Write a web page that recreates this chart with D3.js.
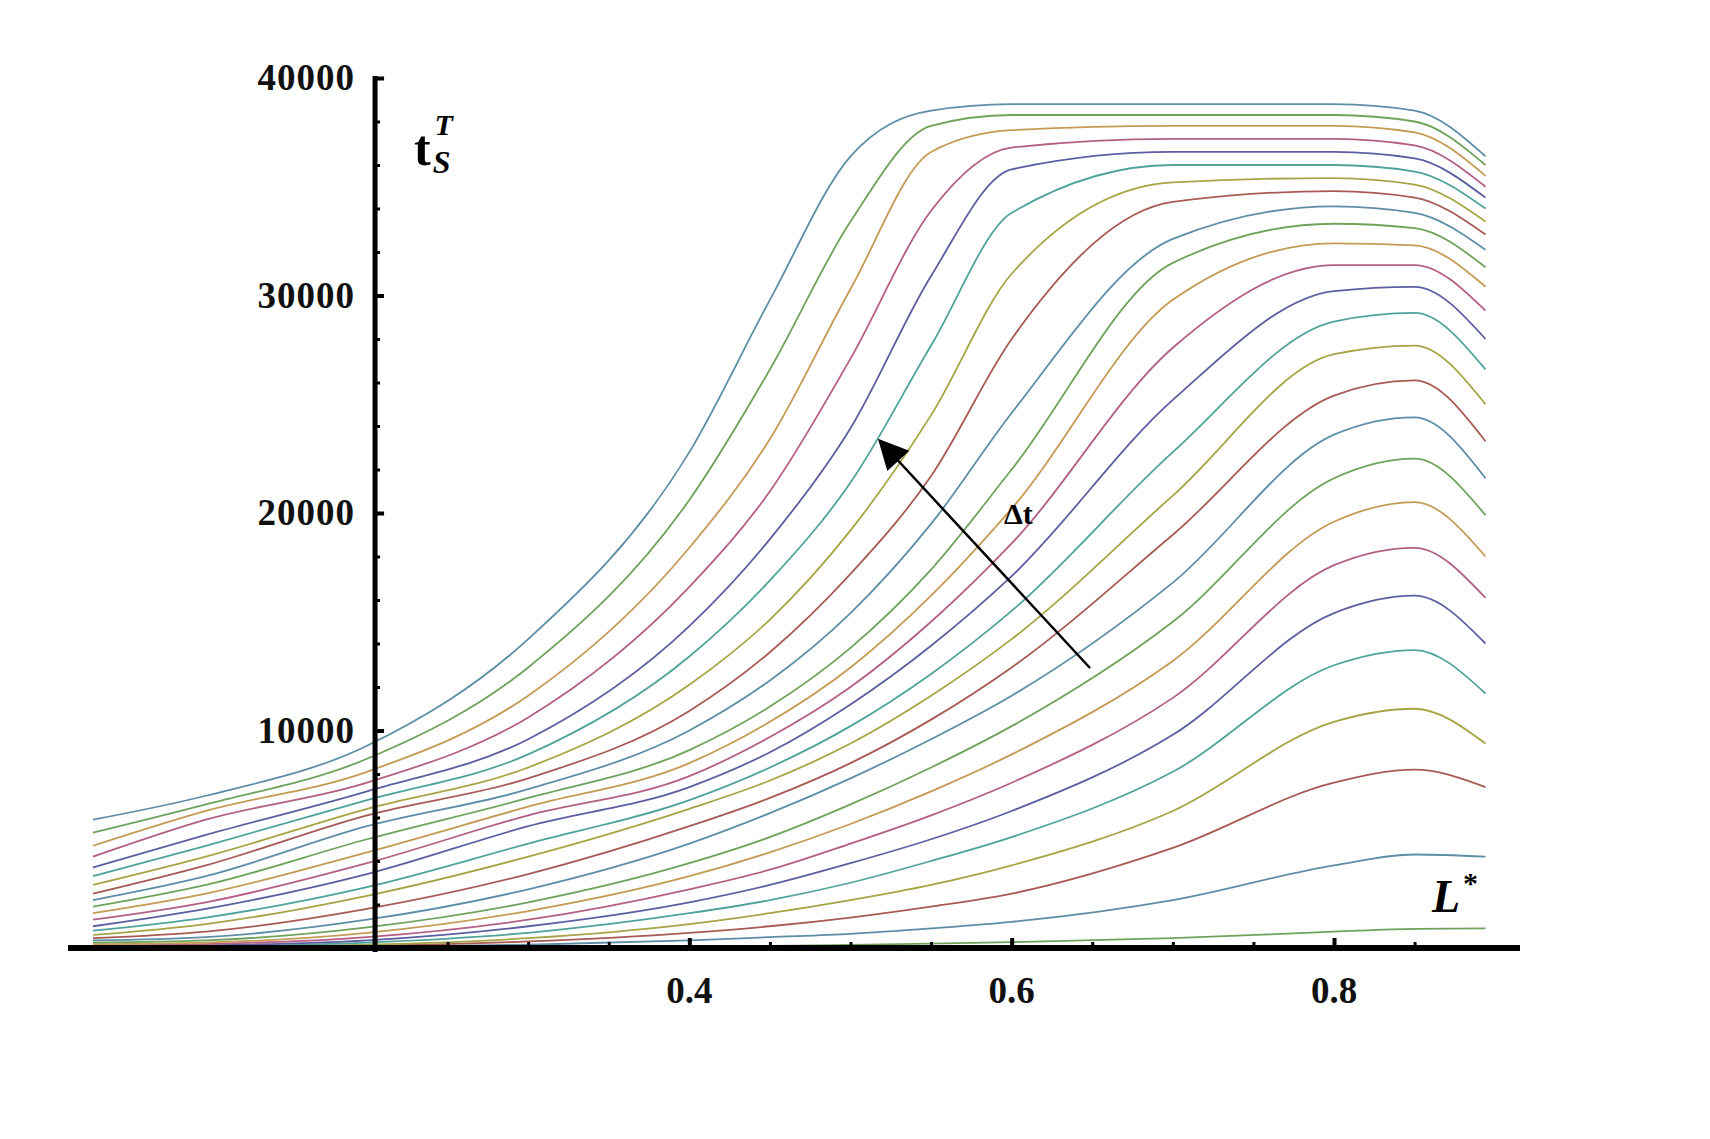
<!DOCTYPE html>
<html>
<head>
<meta charset="utf-8">
<script src="https://cdn.jsdelivr.net/npm/d3@7"></script>
<style>
  body { margin: 0; background: #fff; }
  text { font-family: "Liberation Serif", "DejaVu Serif", serif; }
</style>
</head>
<body>
<svg id="chart" width="1710" height="1139"></svg>
<script>
// L* sample positions
const lValues = [0.03, 0.1, 0.2, 0.3, 0.4, 0.45, 0.5, 0.55, 0.6, 0.7, 0.8, 0.85, 0.894];

// t_S^T for each Δt (thousands), top curve first
const curves = [
  [5.9, 7.0, 9.3, 14.2, 22.8, 29.8, 36.4, 38.5, 38.8, 38.8, 38.8, 38.5, 36.4],
  [5.3, 6.6, 8.7, 12.9, 20.6, 26.6, 33.4, 37.8, 38.3, 38.3, 38.3, 38.0, 36.0],
  [4.7, 6.3, 8.1, 11.6, 18.4, 23.4, 30.3, 36.6, 37.6, 37.8, 37.8, 37.5, 35.5],
  [4.2, 5.9, 7.6, 10.6, 16.6, 21.0, 27.1, 33.9, 36.8, 37.2, 37.2, 36.9, 35.0],
  [3.7, 5.2, 7.2, 9.6, 14.8, 18.8, 23.9, 30.9, 35.8, 36.6, 36.6, 36.3, 34.5],
  [3.3, 4.7, 6.8, 8.9, 13.4, 16.9, 21.4, 27.7, 33.8, 36.0, 36.0, 35.7, 34.0],
  [2.9, 4.2, 6.4, 8.3, 12.1, 15.1, 19.2, 24.5, 31.0, 35.2, 35.4, 35.1, 33.4],
  [2.5, 3.8, 6.1, 7.8, 10.9, 13.6, 17.2, 21.7, 28.0, 34.3, 34.8, 34.5, 32.8],
  [2.2, 3.3, 5.6, 7.3, 10.0, 12.3, 15.4, 19.5, 24.6, 32.6, 34.1, 33.8, 32.1],
  [1.9, 2.9, 5.0, 6.9, 9.1, 11.1, 13.8, 17.4, 22.0, 31.5, 33.3, 33.1, 31.3],
  [1.6, 2.5, 4.4, 6.5, 8.5, 10.4, 12.9, 16.2, 20.2, 29.8, 32.4, 32.3, 30.4],
  [1.3, 2.1, 3.9, 6.1, 7.9, 9.7, 12.0, 15.0, 18.6, 27.6, 31.4, 31.4, 29.3],
  [1.0, 1.8, 3.4, 5.6, 7.4, 9.0, 11.2, 13.9, 17.1, 25.2, 30.2, 30.4, 28.0],
  [0.8, 1.4, 2.8, 4.8, 6.8, 8.3, 10.2, 12.6, 15.5, 22.8, 28.8, 29.2, 26.6],
  [0.6, 1.1, 2.4, 4.2, 6.4, 7.7, 9.4, 11.6, 14.2, 20.8, 27.3, 27.7, 25.0],
  [0.45, 0.75, 1.8, 3.4, 5.6, 6.9, 8.5, 10.5, 12.9, 19.0, 25.4, 26.1, 23.3],
  [0.35, 0.5, 1.3, 2.7, 4.8, 6.2, 7.8, 9.6, 11.6, 16.8, 23.6, 24.4, 21.6],
  [0.25, 0.35, 0.95, 2.1, 3.9, 5.1, 6.6, 8.3, 10.2, 15.0, 21.6, 22.5, 19.9],
  [0.18, 0.25, 0.7, 1.7, 3.3, 4.4, 5.7, 7.2, 8.9, 13.2, 19.6, 20.5, 18.0],
  [0.12, 0.18, 0.5, 1.3, 2.7, 3.6, 4.8, 6.1, 7.6, 11.5, 17.6, 18.4, 16.1],
  [0.08, 0.12, 0.35, 1.0, 2.1, 2.9, 3.9, 5.0, 6.3, 9.8, 15.4, 16.2, 14.0],
  [0.05, 0.08, 0.25, 0.7, 1.6, 2.2, 3.0, 4.0, 5.1, 8.1, 13.0, 13.7, 11.7],
  [0.03, 0.05, 0.15, 0.45, 1.1, 1.6, 2.2, 2.9, 3.8, 6.3, 10.4, 11.0, 9.4],
  [0.02, 0.03, 0.1, 0.3, 0.7, 1.0, 1.4, 1.9, 2.5, 4.6, 7.6, 8.2, 7.4],
  [0.01, 0.02, 0.05, 0.15, 0.35, 0.5, 0.65, 0.9, 1.2, 2.2, 3.8, 4.3, 4.2],
  [0, 0, 0.01, 0.03, 0.07, 0.1, 0.14, 0.2, 0.27, 0.45, 0.75, 0.88, 0.9]
];

const yTicks = [10000, 20000, 30000, 40000];
const xTicks = [0.4, 0.6, 0.8];

const colors = ['#5d8ea6', '#6fa35c', '#c49a55', '#b35f86', '#5b5fa0', '#4fa39b', '#a7a445', '#a85a55'];

const svg = d3.select('#chart');

const x = d3.scaleLinear().domain([0.2, 0.8]).range([367, 1334]);
const y = d3.scaleLinear().domain([0, 40000]).range([948, 78]);
const axisX = 0.205; // where the vertical axis crosses

const line = d3.line()
  .x((d) => x(d[0]))
  .y((d) => y(d[1] * 1000))
  .curve(d3.curveMonotoneX);

// draw bottom curves first
curves.slice().reverse().forEach((c, k) => {
  const i = curves.length - 1 - k;
  svg.append('path')
    .attr('d', line(c.map((v, j) => [lValues[j], v])))
    .attr('fill', 'none')
    .attr('stroke', colors[i % colors.length])
    .attr('stroke-width', 1.8);
});

// y axis
const yAxis = svg.append('g').attr('transform', `translate(${x(axisX)},0)`);
yAxis.append('g')
  .call(d3.axisRight(y).tickValues(yTicks).tickSize(9).tickFormat(''))
  .call((g) => g.select('.domain').remove())
  .selectAll('line').attr('stroke', '#000').attr('stroke-width', 4);
yAxis.append('g')
  .call(d3.axisRight(y).tickValues(d3.range(0, 40001, 2000).filter((v) => v % 10000)).tickSize(5).tickFormat(''))
  .call((g) => g.select('.domain').remove())
  .selectAll('line').attr('stroke', '#000').attr('stroke-width', 3);
yAxis.append('line').attr('y1', y(40000) - 2).attr('y2', 952).attr('stroke', '#000').attr('stroke-width', 5);
yAxis.selectAll('.lbl').data(yTicks).enter().append('text')
  .attr('x', -20).attr('y', (d) => y(d) + 12)
  .attr('fill', '#111')
  .attr('text-anchor', 'end').attr('font-size', 37).attr('font-weight', 'bold')
  .attr('letter-spacing', 1)
  .text((d) => d);

// x axis
const xAxis = svg.append('g').attr('transform', `translate(0,${y(0)})`);
xAxis.append('line').attr('x1', 68).attr('x2', 1520).attr('stroke', '#000').attr('stroke-width', 6);
xAxis.append('g')
  .call(d3.axisTop(x).tickValues(xTicks).tickSize(10).tickFormat(''))
  .call((g) => g.select('.domain').remove())
  .selectAll('line').attr('stroke', '#000').attr('stroke-width', 4);
xAxis.append('g')
  .call(d3.axisTop(x).tickValues([0.25, 0.3, 0.35, 0.45, 0.5, 0.55, 0.65, 0.7, 0.75, 0.85]).tickSize(6).tickFormat(''))
  .call((g) => g.select('.domain').remove())
  .selectAll('line').attr('stroke', '#000').attr('stroke-width', 3);
xAxis.selectAll('.lbl').data(xTicks).enter().append('text')
  .attr('x', (d) => x(d)).attr('y', 55)
  .attr('fill', '#111')
  .attr('text-anchor', 'middle').attr('font-size', 37).attr('font-weight', 'bold')
  .text((d) => d);

// axis labels
const yl = svg.append('text').attr('x', 414).attr('y', 165).attr('font-size', 50).attr('font-weight', 'bold');
yl.append('tspan').text('t');
yl.append('tspan').attr('font-style', 'italic').attr('font-size', 32).attr('dx', 2).attr('dy', 8).text('S');
yl.append('tspan').attr('font-style', 'italic').attr('font-size', 30).attr('dx', -16).attr('dy', -38).text('T');

svg.append('text').attr('x', 1432).attr('y', 912).attr('font-size', 46).attr('font-style', 'italic')
  .attr('font-weight', 'bold').text('L');
svg.append('text').attr('x', 1463).attr('y', 893).attr('font-size', 30).attr('font-weight', 'bold').text('*');

// Δt arrow
svg.append('defs').append('marker')
  .attr('id', 'head').attr('viewBox', '0 0 10 10').attr('refX', 9).attr('refY', 5)
  .attr('markerWidth', 44).attr('markerHeight', 30).attr('markerUnits', 'userSpaceOnUse')
  .attr('orient', 'auto')
  .append('path').attr('d', 'M0,0 L10,5 L0,10 Z').attr('fill', '#000');
svg.append('line').attr('x1', 1090).attr('y1', 668).attr('x2', 880).attr('y2', 441)
  .attr('stroke', '#000').attr('stroke-width', 2.5).attr('marker-end', 'url(#head)');
svg.append('text').attr('x', 1004).attr('y', 524).attr('font-size', 30).attr('font-weight', 'bold').text('Δt');
</script>
</body>
</html>
